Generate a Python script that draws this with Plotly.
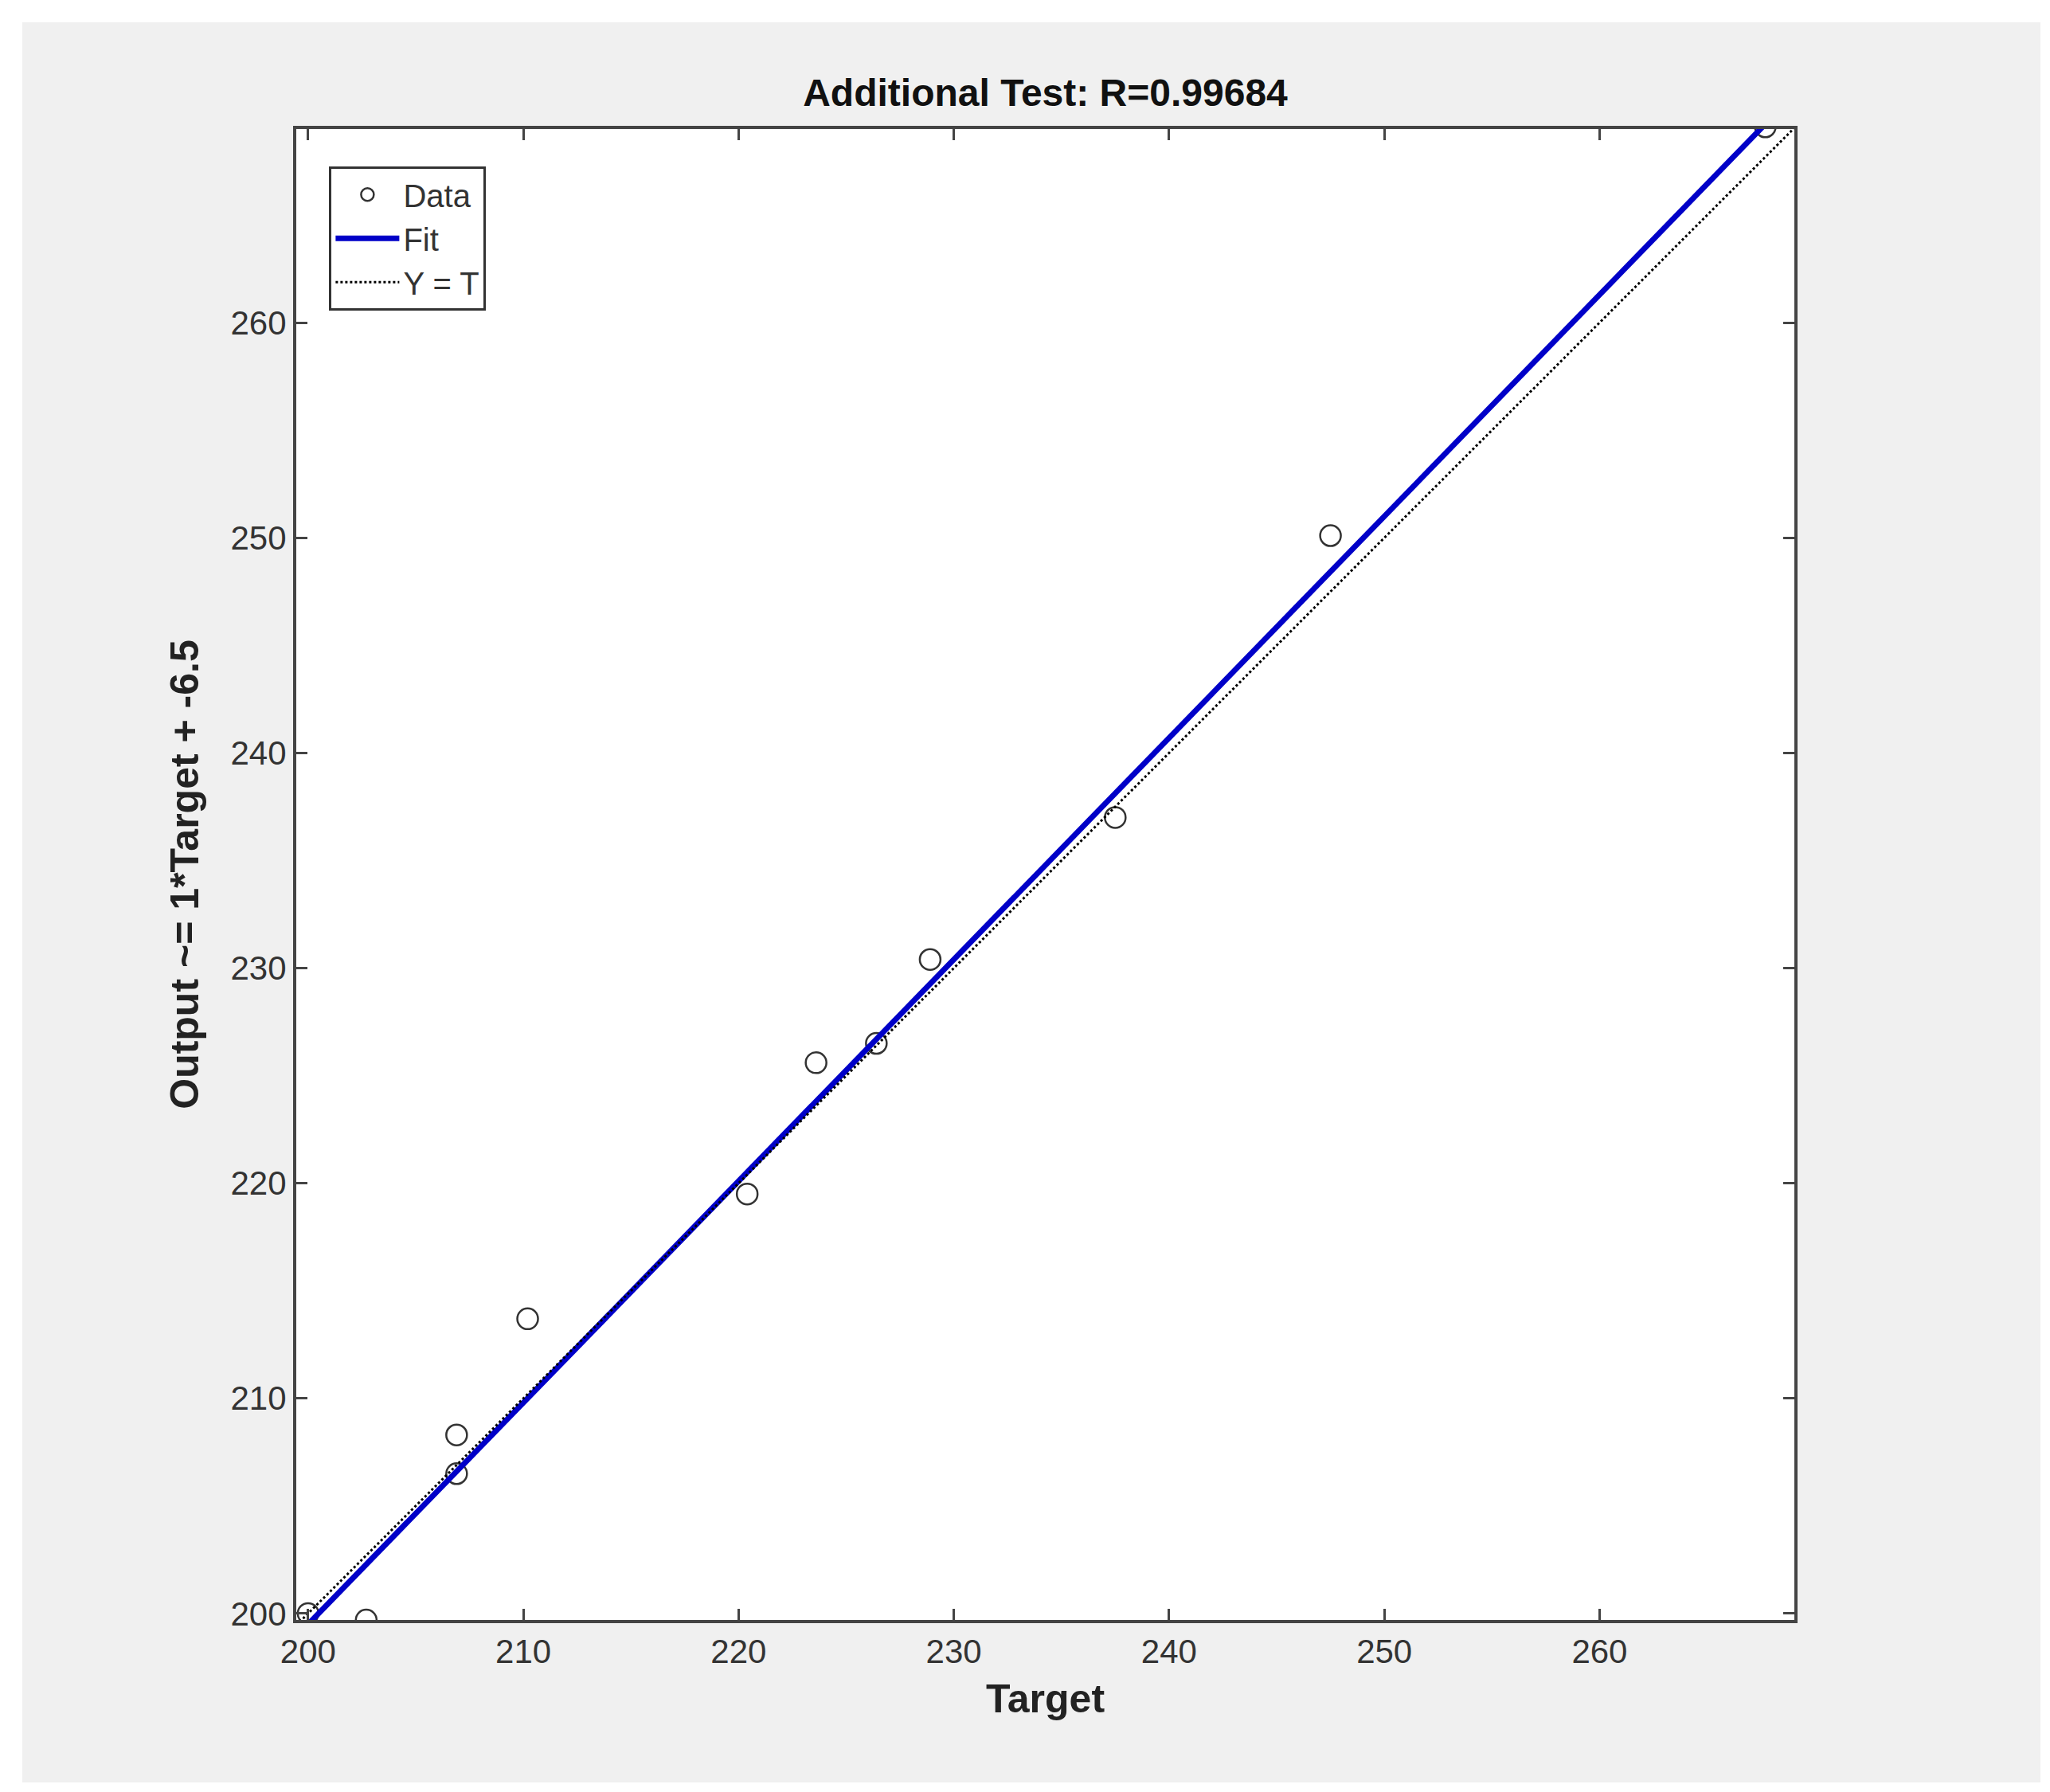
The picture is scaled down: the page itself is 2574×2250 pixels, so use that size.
import numpy as np
import plotly.graph_objects as go

target = [200.0, 202.7, 206.9, 206.9, 210.2, 220.4, 223.6, 226.4, 228.9, 237.5, 247.5, 267.7]
output = [200.0, 199.7, 208.3, 206.5, 213.7, 219.5, 225.6, 226.5, 230.4, 237.0, 250.1, 269.1]
fit_slope = 1.03
fit_intercept = -6.5
line_x = [200.0, 267.7]
ticks = [200, 210, 220, 230, 240, 250, 260]

fx = np.array(line_x)
fig = go.Figure()
fig.add_trace(go.Scatter(x=target, y=output, mode="markers", name="Data",
    marker=dict(symbol="circle-open", size=26, color="#333333", line=dict(width=2.5))))
fig.add_trace(go.Scatter(x=fx, y=fit_slope * fx + fit_intercept, mode="lines", name="Fit",
    line=dict(color="#0000c8", width=7)))
fig.add_trace(go.Scatter(x=[199.45, 269.05], y=[199.45, 269.05], mode="lines", name="Y = T",
    line=dict(color="black", width=3, dash="dot")))

ax = dict(range=None, tickvals=ticks, ticks="inside", ticklen=14, tickwidth=3, tickcolor="#444",
          showline=True, linecolor="#444", linewidth=4, mirror="ticks", showgrid=False, zeroline=False,
          tickfont=dict(size=42, color="#333", family="Liberation Sans"))
fig.update_xaxes(**ax)
fig.update_yaxes(**ax)
fig.update_xaxes(range=[199.45, 269.05],
    title=dict(text="<b>Target</b>", font=dict(size=50, color="#222", family="Liberation Sans"), standoff=20))
fig.update_yaxes(range=[199.7, 269.0],
    title=dict(text="<b>Output ~= 1*Target + -6.5</b>", font=dict(size=50, color="#222", family="Liberation Sans"), standoff=25))

fig.update_layout(
    width=2574, height=2250,
    margin=dict(l=364, r=329, t=154, b=224),
    paper_bgcolor="#f0f0f0", plot_bgcolor="white",
    title=dict(text="<b>Additional Test: R=0.99684</b>", x=(364 + 2245) / 2 / 2574, xanchor="center",
               y=1 - 108 / 2250, yanchor="middle", font=dict(size=48, color="#111", family="Liberation Sans")),
    legend=dict(x=0.022, y=0.975, xanchor="left", yanchor="top", bgcolor="white",
                bordercolor="#333", borderwidth=3, font=dict(size=40, color="#333", family="Liberation Sans"),
                itemwidth=80),
    showlegend=True,
    shapes=[dict(type="rect", xref="paper", yref="paper", x0=-364/1881, x1=1+329/1881,
                 y0=-224/1872, y1=1+154/1872, line=dict(color="white", width=40), layer="below")],
)
fig.write_html("out.html")
